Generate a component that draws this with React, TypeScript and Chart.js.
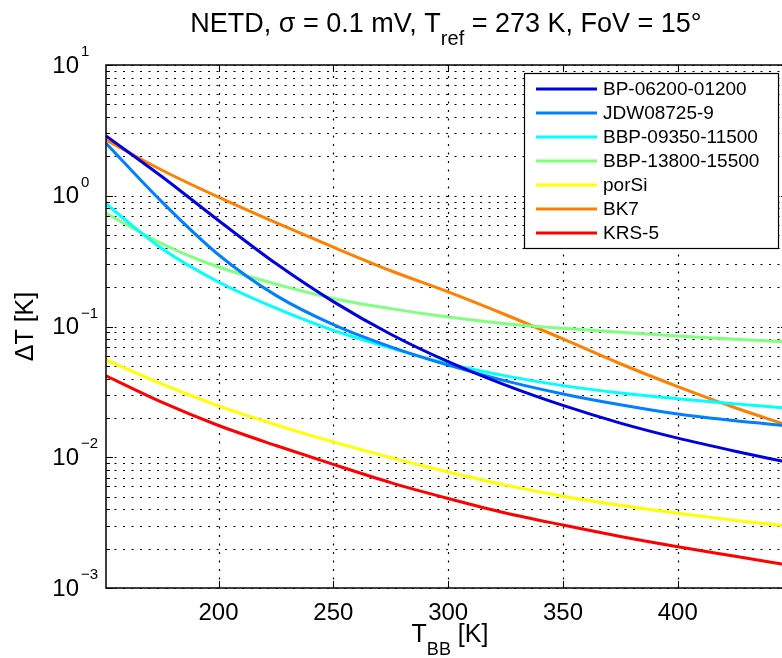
import React, { useEffect, useRef } from "react";
import { Chart, registerables } from "chart.js";

Chart.register(...registerables);

// ---- data ----
const temperatures = [151, 175, 200, 225, 250, 275, 300, 325, 350, 375, 400, 425, 448];
const bp0620001200 = [2.87, 1.416, 0.647, 0.303, 0.155, 0.0873, 0.0538, 0.0356, 0.0249, 0.01824, 0.014, 0.01112, 0.00914];
const jdw087259 = [2.52, 0.91, 0.354, 0.173, 0.1033, 0.0698, 0.0506, 0.0384, 0.0305, 0.0252, 0.0214, 0.019, 0.0174];
const bbp0935011500 = [0.865, 0.399, 0.219, 0.138, 0.0933, 0.0684, 0.0519, 0.0419, 0.0353, 0.031, 0.028, 0.0256, 0.0237];
const bbp1380015500 = [0.734, 0.433, 0.285, 0.211, 0.164, 0.137, 0.118, 0.105, 0.0968, 0.0902, 0.0845, 0.0798, 0.0762];
const porSi = [0.0555, 0.0365, 0.0247, 0.0177, 0.0131, 0.00993, 0.00771, 0.00612, 0.00504, 0.00429, 0.00373, 0.00329, 0.00298];
const bk7 = [2.67, 1.58, 0.975, 0.622, 0.404, 0.267, 0.184, 0.123, 0.0804, 0.0519, 0.0347, 0.0239, 0.0175];
const krs5 = [0.042, 0.0265, 0.0175, 0.0123, 0.00881, 0.0064, 0.00484, 0.00375, 0.00303, 0.00248, 0.00207, 0.00175, 0.0015];

const seriesNames = ["BP-06200-01200", "JDW08725-9", "BBP-09350-11500", "BBP-13800-15500", "porSi", "BK7", "KRS-5"];
const seriesValues = [bp0620001200, jdw087259, bbp0935011500, bbp1380015500, porSi, bk7, krs5];
const seriesColors = ["rgb(0,0,225)", "rgb(0,128,255)", "rgb(0,255,255)", "rgb(128,255,128)", "rgb(255,255,0)", "rgb(255,128,0)", "rgb(255,0,0)"];

const xTickValues = [200, 250, 300, 350, 400];
const yDecadeExponents = [-3, -2, -1, 0, 1];
const xMin = 151;
const xMax = 448;
const yMin = 0.001;
const yMax = 10;

const FONT = '"Liberation Sans", Arial, Helvetica, sans-serif';

function drawRuns(ctx: CanvasRenderingContext2D, runs: { t: string; size: number; dy: number }[], cx: number, baseline: number) {
  let total = 0;
  const widths = runs.map((r) => {
    ctx.font = `${r.size}px ${FONT}`;
    const w = ctx.measureText(r.t).width;
    total += w;
    return w;
  });
  let xPos = cx - total / 2;
  ctx.textAlign = "left";
  ctx.textBaseline = "alphabetic";
  runs.forEach((r, i) => {
    ctx.font = `${r.size}px ${FONT}`;
    ctx.fillText(r.t, xPos, baseline + r.dy);
    xPos += widths[i];
  });
}

const matlabPlugin = {
  id: "matlabLook",
  beforeDatasetsDraw(chart: any) {
    const { ctx, chartArea: a, scales } = chart;
    const xs = scales.x;
    const ys = scales.y;
    ctx.save();
    ctx.strokeStyle = "#000";
    ctx.lineWidth = 1.2;
    ctx.setLineDash([2, 6.5]);
    for (const t of xTickValues) {
      const px = Math.round(xs.getPixelForValue(t)) + 0.5;
      ctx.beginPath();
      ctx.moveTo(px, a.bottom);
      ctx.lineTo(px, a.top);
      ctx.stroke();
    }
    for (const e of yDecadeExponents) {
      for (let m = 1; m <= 9; m++) {
        const v = m * Math.pow(10, e);
        if (v > yMax * 1.0001) continue;
        const py = Math.round(ys.getPixelForValue(v)) + 0.5;
        ctx.beginPath();
        ctx.moveTo(a.left, py);
        ctx.lineTo(a.right, py);
        ctx.stroke();
      }
    }
    ctx.restore();
  },
  afterDatasetsDraw(chart: any) {
    const { ctx, chartArea: a, scales } = chart;
    const xs = scales.x;
    const ys = scales.y;
    ctx.save();
    ctx.setLineDash([]);
    ctx.strokeStyle = "#000";
    ctx.fillStyle = "#000";
    ctx.lineWidth = 1;
    const major = 7;
    const minor = 4;
    for (const t of xTickValues) {
      const px = Math.round(xs.getPixelForValue(t)) + 0.5;
      ctx.beginPath();
      ctx.moveTo(px, a.bottom);
      ctx.lineTo(px, a.bottom - major);
      ctx.moveTo(px, a.top);
      ctx.lineTo(px, a.top + major);
      ctx.stroke();
    }
    for (const e of yDecadeExponents) {
      for (let m = 1; m <= 9; m++) {
        const v = m * Math.pow(10, e);
        if (v > yMax * 1.0001) continue;
        const py = Math.round(ys.getPixelForValue(v)) + 0.5;
        const len = m === 1 ? major : minor;
        ctx.beginPath();
        ctx.moveTo(a.left, py);
        ctx.lineTo(a.left + len, py);
        ctx.moveTo(a.right, py);
        ctx.lineTo(a.right - len, py);
        ctx.stroke();
      }
    }
    ctx.lineWidth = 1.5;
    ctx.strokeRect(a.left, a.top, a.right - a.left, a.bottom - a.top);

    // x tick labels
    ctx.font = `24px ${FONT}`;
    ctx.textAlign = "center";
    ctx.textBaseline = "alphabetic";
    for (const t of xTickValues) {
      ctx.fillText(String(t), xs.getPixelForValue(t), 620);
    }
    // y tick labels 10^e
    for (const e of yDecadeExponents) {
      const py = ys.getPixelForValue(Math.pow(10, e));
      ctx.font = `24px ${FONT}`;
      ctx.textAlign = "right";
      ctx.textBaseline = "middle";
      ctx.fillText("10", 79, py + 1);
      ctx.font = `15px ${FONT}`;
      ctx.textAlign = "left";
      ctx.textBaseline = "alphabetic";
      ctx.fillText(e < 0 ? `\u2212${-e}` : String(e), 81, py - 9);
    }

    // axis titles
    drawRuns(ctx, [
      { t: "T", size: 25, dy: 0 },
      { t: "BB", size: 18, dy: 13 },
      { t: " [K]", size: 25, dy: 0 },
    ], 450, 642);
    ctx.save();
    ctx.translate(33, (a.top + a.bottom) / 2);
    ctx.rotate(-Math.PI / 2);
    drawRuns(ctx, [{ t: "\u0394T [K]", size: 25, dy: 0 }], 0, 0);
    ctx.restore();

    // title
    drawRuns(ctx, [
      { t: "NETD, \u03c3 = 0.1 mV, T", size: 27, dy: 0 },
      { t: "ref", size: 20, dy: 13 },
      { t: " = 273 K, FoV = 15\u00b0", size: 27, dy: 0 },
    ], 446, 32);

    // legend
    const lx = 524;
    const ly = 73;
    const lw = 254;
    const lh = 175;
    ctx.fillStyle = "#fff";
    ctx.fillRect(lx, ly, lw, lh);
    ctx.lineWidth = 1.2;
    ctx.strokeStyle = "#000";
    ctx.strokeRect(lx + 0.5, ly + 0.5, lw, lh);
    chart.data.datasets.forEach((ds: any, i: number) => {
      const ry = 89 + i * 24;
      ctx.strokeStyle = ds.borderColor;
      ctx.lineWidth = 3;
      ctx.beginPath();
      ctx.moveTo(536, ry);
      ctx.lineTo(597, ry);
      ctx.stroke();
      ctx.fillStyle = "#000";
      ctx.font = `19px ${FONT}`;
      ctx.textAlign = "left";
      ctx.textBaseline = "middle";
      ctx.fillText(ds.label, 603, ry + 1);
    });
    ctx.restore();
  },
};

export default function App() {
  const canvasRef = useRef<HTMLCanvasElement | null>(null);

  useEffect(() => {
    const canvas = canvasRef.current;
    if (!canvas) return;
    const chart = new Chart(canvas, {
      type: "line",
      data: {
        datasets: seriesNames.map((name, i) => ({
          label: name,
          data: temperatures.map((t, j) => ({ x: t, y: seriesValues[i][j] })),
          borderColor: seriesColors[i],
          backgroundColor: seriesColors[i],
          borderWidth: 3,
          pointRadius: 0,
          fill: false,
          cubicInterpolationMode: "monotone" as const,
        })),
      },
      options: {
        responsive: false,
        animation: false,
        events: [],
        layout: { padding: { left: 106, top: 65, right: 12, bottom: 70 } },
        plugins: {
          legend: { display: false },
          tooltip: { enabled: false },
          title: { display: false },
        },
        scales: {
          x: {
            type: "linear",
            min: xMin,
            max: xMax,
            grid: { display: false },
            border: { display: false },
            ticks: { display: false },
            afterFit: (s: any) => {
              s.height = 0;
            },
          },
          y: {
            type: "logarithmic",
            min: yMin,
            max: yMax,
            grid: { display: false },
            border: { display: false },
            ticks: { display: false },
            afterFit: (s: any) => {
              s.width = 0;
            },
          },
        },
      },
      plugins: [matlabPlugin],
    });
    return () => chart.destroy();
  }, []);

  return (
    <div style={{ position: "fixed", left: 0, top: 0, width: 782, height: 658, overflow: "hidden", background: "#fff" }}>
      <canvas ref={canvasRef} width={800} height={658} style={{ display: "block" }} />
    </div>
  );
}
